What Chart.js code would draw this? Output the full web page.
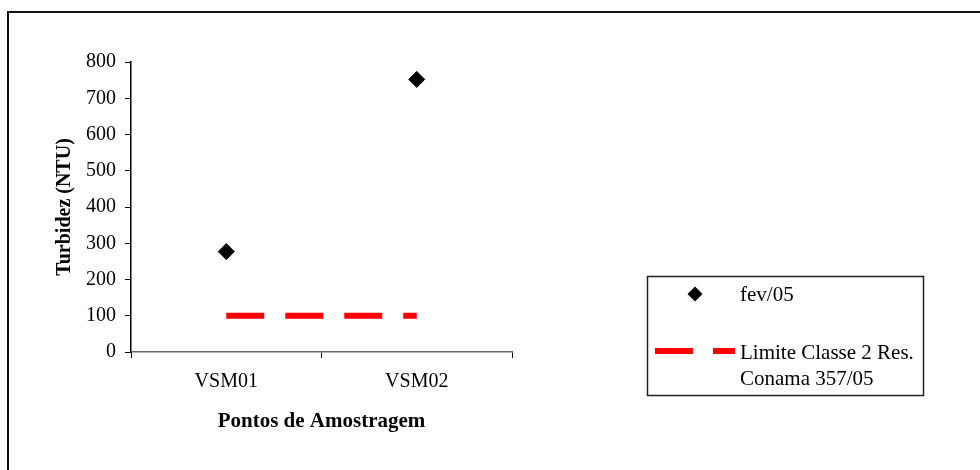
<!DOCTYPE html>
<html>
<head>
<meta charset="utf-8">
<script src="https://cdn.jsdelivr.net/npm/chart.js@4/dist/chart.umd.min.js"></script>
<style>
  html, body { margin: 0; padding: 0; background: #fff; }
  #wrap { width: 980px; height: 470px; position: relative; }
</style>
</head>
<body>
<div id="wrap"><canvas id="c" width="980" height="470"></canvas></div>
<script>
// Sampling points and measured turbidity
const categories = ['VSM01', 'VSM02'];
const turbidity = [277, 752];
const limitValues = [100, 100];
const seriesNames = ['fev/05', 'Limite Classe 2 Res. Conama 357/05'];
const legendLines = [['fev/05'], ['Limite Classe 2 Res.', 'Conama 357/05']];
const yTicks = [0, 100, 200, 300, 400, 500, 600, 700, 800];

const FONT = 'Liberation Serif, "Times New Roman", serif';

// Frame around the whole chart (top and left edges)
const framePlugin = {
  id: 'frame',
  beforeDraw(chart) {
    const ctx = chart.ctx;
    ctx.save();
    ctx.strokeStyle = '#111';
    ctx.lineWidth = 2;
    ctx.beginPath();
    ctx.moveTo(8, 480);
    ctx.lineTo(8, 12);
    ctx.lineTo(990, 12);
    ctx.stroke();
    ctx.restore();
  }
};

// Boxed legend on the right with a wrapped label
const boxLegend = {
  id: 'boxLegend',
  afterDraw(chart) {
    const ctx = chart.ctx;
    const ds = chart.data.datasets;
    ctx.save();
    ctx.strokeStyle = '#222';
    ctx.lineWidth = 1.5;
    ctx.strokeRect(647.5, 276.5, 276, 119);

    ctx.font = '21px ' + FONT;
    ctx.textBaseline = 'middle';
    ctx.textAlign = 'left';

    // scatter entry: diamond marker
    ctx.fillStyle = ds[0].backgroundColor;
    ctx.beginPath();
    ctx.moveTo(695, 286.5); ctx.lineTo(702.5, 294); ctx.lineTo(695, 301.5); ctx.lineTo(687.5, 294);
    ctx.closePath(); ctx.fill();
    ctx.fillStyle = '#000';
    legendLines[0].forEach((t, i) => ctx.fillText(t, 740, 295 + i * 25));

    // dashed limit entry
    ctx.fillStyle = ds[1].borderColor;
    ctx.fillRect(655, 348, 38, 6);
    ctx.fillRect(713, 348, 22, 6);
    ctx.fillStyle = '#000';
    legendLines[1].forEach((t, i) => ctx.fillText(t, 740, 353 + i * 26));
    ctx.restore();
  }
};

new Chart(document.getElementById('c'), {
  type: 'line',
  data: {
    labels: categories,
    datasets: [
      {
        label: seriesNames[0],
        data: turbidity,
        showLine: false,
        pointStyle: 'rectRot',
        pointRadius: 8,
        pointBackgroundColor: '#000',
        pointBorderColor: '#000',
        backgroundColor: '#000',
        borderColor: '#000'
      },
      {
        label: seriesNames[1],
        data: limitValues,
        borderColor: '#ff0000',
        backgroundColor: '#ff0000',
        borderWidth: 6,
        borderDash: [38, 21],
        borderCapStyle: 'butt',
        pointRadius: 0,
        fill: false
      }
    ]
  },
  options: {
    responsive: false,
    animation: false,
    events: [],
    layout: { padding: { left: 0, top: 62, right: 468, bottom: 0 } },
    plugins: {
      legend: { display: false },
      tooltip: { enabled: false },
      title: { display: false }
    },
    scales: {
      x: {
        offset: true,
        grid: {
          offset: true,
          drawOnChartArea: false,
          tickLength: 6,
          color: '#000',
          tickColor: '#000'
        },
        border: { color: '#666', width: 1.5 },
        ticks: {
          color: '#000',
          padding: 12,
          font: { family: FONT, size: 20 }
        },
        title: {
          display: true,
          text: 'Pontos de Amostragem',
          color: '#000',
          font: { family: FONT, size: 21, weight: 'bold' },
          padding: { top: 0, bottom: 36 }
        },
        afterFit(scale) { scale.height = 118; }
      },
      y: {
        min: 0,
        max: 800,
        afterBuildTicks(scale) { scale.ticks = yTicks.map(v => ({ value: v })); },
        grid: {
          drawOnChartArea: false,
          tickLength: 6,
          color: '#000',
          tickColor: '#000'
        },
        border: { color: '#000', width: 1.5 },
        ticks: {
          color: '#000',
          padding: 9,
          font: { family: FONT, size: 20 }
        },
        title: {
          display: true,
          text: 'Turbidez (NTU)',
          color: '#000',
          font: { family: FONT, size: 20, weight: 'bold' },
          padding: { top: 53, bottom: 0 }
        },
        afterFit(scale) { scale.width = 131; }
      }
    }
  },
  plugins: [framePlugin, boxLegend]
});
</script>
</body>
</html>
